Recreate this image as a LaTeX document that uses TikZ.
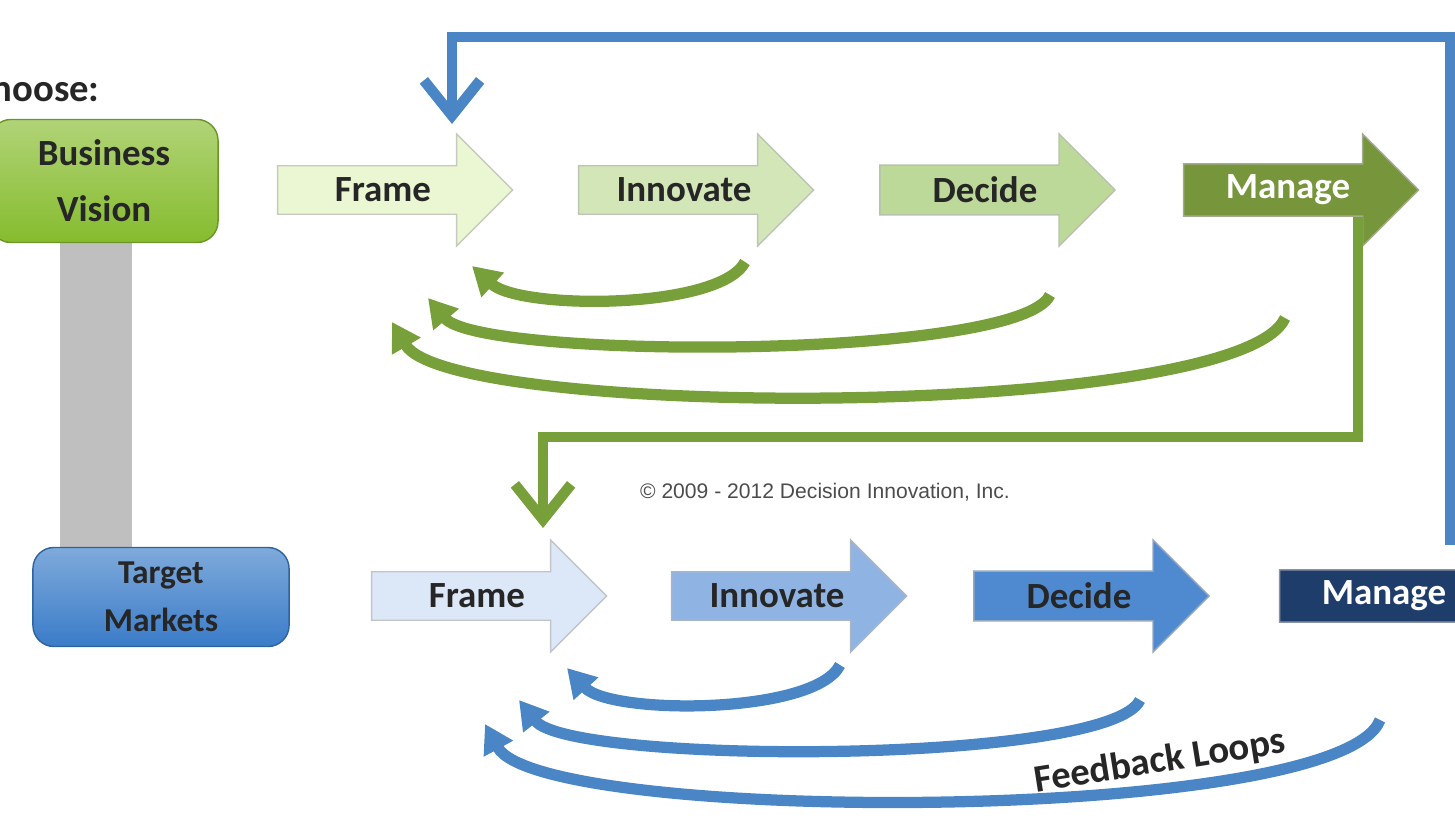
\documentclass[tikz,border=0pt]{standalone}
\usepackage{fontspec}
\setmainfont{Carlito}
\setsansfont{Liberation Sans}
\usetikzlibrary{shapes.arrows,arrows.meta}
\definecolor{gA}{HTML}{EAF7D2}
\definecolor{gB}{HTML}{D2E6B8}
\definecolor{gC}{HTML}{BCD99A}
\definecolor{gD}{HTML}{77963B}
\definecolor{gL}{HTML}{77A03A}
\definecolor{bA}{HTML}{DCE8F8}
\definecolor{bB}{HTML}{8FB4E3}
\definecolor{bC}{HTML}{4F8AD0}
\definecolor{bD}{HTML}{1F3D6B}
\definecolor{bL}{HTML}{4A86C5}
\definecolor{gV}{HTML}{86BC2E}
\definecolor{bV}{HTML}{3A7CC8}
\begin{document}
\begin{tikzpicture}[x=0.01cm,y=-0.01cm,
  stage/.style={single arrow,draw=#1!60!black!50,fill=#1,minimum height=2.35cm,
    minimum width=1.12cm,single arrow head extend=0.26cm,inner sep=2pt,
    font=\bfseries\fontsize{10.5}{12}\selectfont,text=black!85},
  goal/.style={rounded corners=6pt,align=center,font=\bfseries\fontsize{10.5}{16}\selectfont,
    text=black!85,draw=#1!80!black,top color=#1!65,bottom color=#1},
  loopg/.style={gL,line width=3.2pt,-{Triangle[width=9pt,length=8pt]}},
  loopb/.style={bL,line width=3.2pt,-{Triangle[width=9pt,length=8pt]}}]
\useasboundingbox (0,0) rectangle (1455,834);
\node[anchor=east,font=\bfseries\fontsize{11}{12}\selectfont,text=black!85] (choose) at (112,88) {Choose:};
\fill[black!25] (60,243) rectangle (132,548);
\node[goal=gV,minimum width=2.28cm,minimum height=1.23cm] (bv) at (104,181) {Business\\Vision};
\node[goal=bV,minimum width=2.56cm,minimum height=0.99cm,font=\bfseries\fontsize{9.5}{13.5}\selectfont] (tm) at (161,597) {Target\\Markets};
% top row
\node[stage=gA] (tf) at (383,190) {Frame};
\node[stage=gB] (ti) at (684,190) {Innovate};
\node[stage=gC] (td) at (985,190) {Decide};
\node[stage=gD,text=white] (tg) at (1288,190) {Manage};
% bottom row
\node[stage=bA] (bf) at (477,596) {Frame};
\node[stage=bB] (bi) at (777,596) {Innovate};
\node[stage=bC] (bd) at (1079,596) {Decide};
\node[stage=bD,text=white] (bg) at (1384,596) {Manage};
% feedback
\draw[loopg] (745,262) .. controls (720,310) and (520,310) .. (472,266);
\draw[loopg] (1050,295) .. controls (1020,360) and (480,360) .. (428,298);
\draw[loopg] (1285,318) .. controls (1240,420) and (450,420) .. (392,322);
\draw[loopb] (840,665) .. controls (815,715) and (610,715) .. (567,668);
\draw[loopb] (1140,700) .. controls (1110,765) and (570,765) .. (519,700);
\draw[loopb] (1380,720) .. controls (1340,825) and (540,825) .. (485,724);
\node[rotate=9,font=\bfseries\fontsize{11}{12}\selectfont,text=black!85] (fb) at (1160,762) {Feedback Loops};
\node[font=\sffamily\fontsize{6}{7}\selectfont,text=black!70] (cr) at (825,492) {© 2009 - 2012 Decision Innovation, Inc.};
% cross links
\coordinate (gturn) at (1358,437);
\draw[gL,line width=3pt,-{Straight Barb[width=16pt,length=10pt,line width=3pt]}]
  (tg.south east -| gturn) -- (gturn) -- (543,437) -- (543,528);
\draw[bL,line width=3pt,-{Straight Barb[width=16pt,length=10pt,line width=3pt]}]
  (1450,545) -- (1450,37) -- (452,37) -- (452,124);
\end{tikzpicture}
\end{document}
